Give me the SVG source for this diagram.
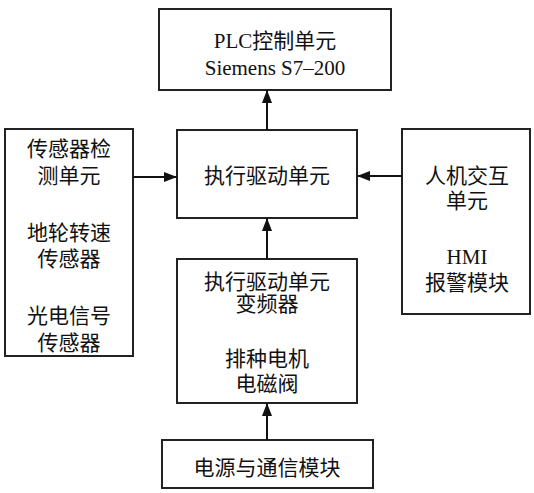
<svg xmlns="http://www.w3.org/2000/svg" width="534" height="493" viewBox="0 0 534 493">
<style>
.box{fill:#fff;stroke:#222;stroke-width:2}
.t{font-family:"Liberation Serif","Noto Sans CJK SC",serif;font-size:21px;fill:#111;text-anchor:middle}
.c{stroke:#111;stroke-width:2;fill:none;marker-end:url(#ah)}
</style>
<defs>
<marker id="ah" markerUnits="userSpaceOnUse" markerWidth="14" markerHeight="10" refX="13" refY="5" orient="auto">
<path d="M0,0 L13,5 L0,10 z" fill="#111"/>
</marker>
</defs>
<rect width="534" height="493" fill="#fff"/>
<g id="plc">
<rect class="box" x="159" y="9" width="232" height="81"/>
<text class="t" x="275" y="48">PLC控制单元</text>
<text class="t" x="275" y="75">Siemens S7–200</text>
</g>
<g id="sensor">
<rect class="box" x="5" y="129" width="128" height="227"/>
<text class="t" x="69" y="156">传感器检</text>
<text class="t" x="69" y="183">测单元</text>
<text class="t" x="69" y="240">地轮转速</text>
<text class="t" x="69" y="266">传感器</text>
<text class="t" x="69" y="323">光电信号</text>
<text class="t" x="69" y="350">传感器</text>
</g>
<g id="exec">
<rect class="box" x="177" y="130" width="180" height="88"/>
<text class="t" x="267" y="183">执行驱动单元</text>
</g>
<g id="hmi">
<rect class="box" x="402" y="129" width="128" height="185"/>
<text class="t" x="467" y="183">人机交互</text>
<text class="t" x="467" y="208">单元</text>
<text class="t" x="467" y="264">HMI</text>
<text class="t" x="467" y="290">报警模块</text>
</g>
<g id="drive">
<rect class="box" x="177" y="259" width="180" height="144"/>
<text class="t" x="267" y="289">执行驱动单元</text>
<text class="t" x="267" y="311">变频器</text>
<text class="t" x="267" y="366">排种电机</text>
<text class="t" x="267" y="391">电磁阀</text>
</g>
<g id="power">
<rect class="box" x="162" y="440" width="211" height="48"/>
<text class="t" x="267" y="475">电源与通信模块</text>
</g>
<g id="connectors">
<line class="c" x1="267" y1="130" x2="267" y2="90"/>
<line class="c" x1="133" y1="177" x2="177" y2="177"/>
<line class="c" x1="402" y1="176" x2="357" y2="176"/>
<line class="c" x1="267" y1="259" x2="267" y2="218"/>
<line class="c" x1="267" y1="440" x2="267" y2="403"/>
</g>
</svg>
